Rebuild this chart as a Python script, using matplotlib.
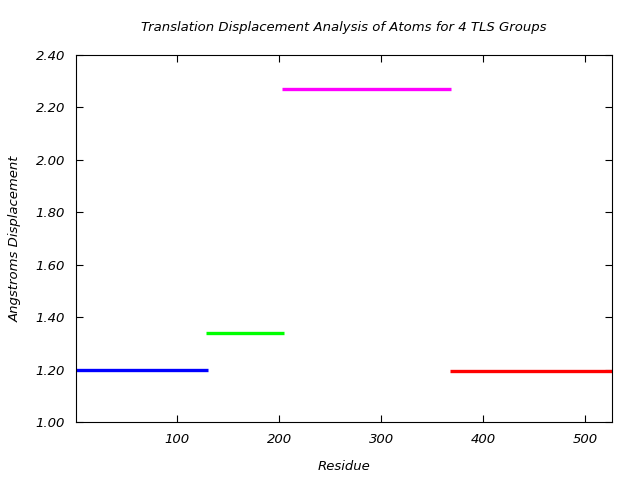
import matplotlib
matplotlib.use("Agg")
import matplotlib.pyplot as plt

# TLS group residue ranges and translation displacement
group_start = [1, 128, 203, 367]
group_end = [130, 205, 368, 526]
displacement = [1.20, 1.34, 2.27, 1.195]
colors = ["#0000ff", "#00ff00", "#ff00ff", "#ff0000"]

y_ticks = [1.00, 1.20, 1.40, 1.60, 1.80, 2.00, 2.20, 2.40]
x_ticks = [100, 200, 300, 400, 500]

plt.rcParams['font.family'] = ['DejaVu Sans']
plt.rcParams['font.style'] = 'italic'

fig = plt.figure(figsize=(6.4, 4.8), dpi=100)
ax = fig.add_axes([0.11875, 0.1208, 0.8375, 0.7646])

for x0, x1, d, c in zip(group_start, group_end, displacement, colors):
    ax.plot([x0, x1], [d, d], color=c, linewidth=2.4, solid_capstyle="butt")

ax.set_xlim(1, 526)
ax.set_ylim(1.0, 2.4)
ax.set_xticks(x_ticks)
ax.set_yticks(y_ticks)
ax.set_yticklabels([f"{v:.2f}" for v in y_ticks])
ax.tick_params(direction="in", top=True, right=True, length=5, labelsize=9.5, pad=8)

ax.set_title("Translation Displacement Analysis of Atoms for 4 TLS Groups", fontsize=9.5, pad=17)
ax.set_xlabel("Residue", fontsize=9.5, labelpad=10)
ax.set_ylabel("Angstroms Displacement", fontsize=9.5, labelpad=10)

fig.savefig("out.png", dpi=100)
